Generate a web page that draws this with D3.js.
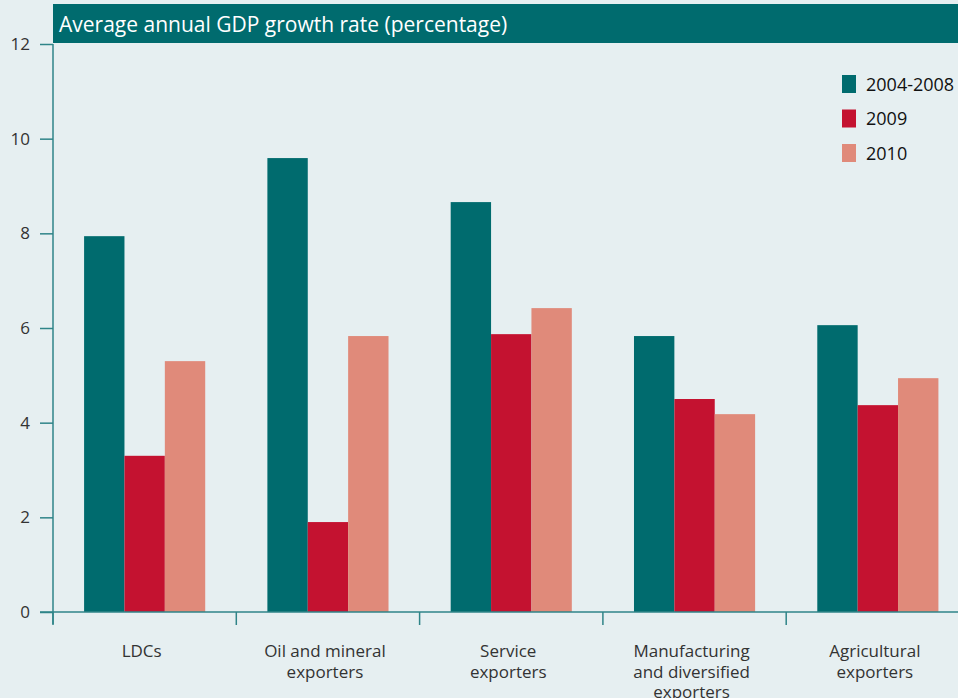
<!DOCTYPE html>
<html><head><meta charset="utf-8">
<script src="https://cdn.jsdelivr.net/npm/d3@7"></script>
<style>
html,body{margin:0;padding:0;background:#e6eff1;}
svg{display:block;}
</style></head>
<body>
<svg id="c" width="958" height="698"></svg>
<script>
const categories = [
  ["LDCs"],
  ["Oil and mineral", "exporters"],
  ["Service", "exporters"],
  ["Manufacturing", "and diversified", "exporters"],
  ["Agricultural", "exporters"]
];
const series = ["2004-2008", "2009", "2010"];
const values2004_2008 = [7.94, 9.59, 8.66, 5.83, 6.06];
const values2009 = [3.30, 1.90, 5.87, 4.50, 4.37];
const values2010 = [5.30, 5.83, 6.42, 4.18, 4.94];
const yTicks = [0, 2, 4, 6, 8, 10, 12];
const title = "Average annual GDP growth rate (percentage)";
const colors = ["#006b6e", "#c41230", "#e08a7a"];

(function () {
const seriesValues = [values2004_2008, values2009, values2010];
const svg = d3.select("#c");
const font = "'Open Sans', sans-serif";
const axisColor = "#2f8488";
const textColor = "#333";

const plotLeft = 53, plotTop = 44, plotBottom = 612;
const step = 183.3;
const catKeys = categories.map(c => c.join(" "));
const x0 = d3.scaleBand().domain(catKeys).range([plotLeft, plotLeft + step * categories.length]).padding(0);
const x1 = d3.scaleBand().domain(series).range([0, x0.bandwidth()]).paddingInner(0).paddingOuter(0.77);
const y = d3.scaleLinear().domain([0, 12]).range([plotBottom, plotTop]);

// header band
svg.append("rect").attr("x", plotLeft).attr("y", 4).attr("width", 958 - plotLeft).attr("height", 39).attr("fill", "#006b6e");
svg.append("text").attr("x", 59).attr("y", 31.5).attr("fill", "#fff")
  .attr("font-family", font).attr("font-size", 21).text(title);

// bars
const groups = svg.append("g").selectAll("g").data(catKeys).join("g")
  .attr("transform", d => `translate(${x0(d)},0)`);
groups.selectAll("rect").data((d, i) => series.map((s, j) => ({s, v: seriesValues[j][i], j})))
  .join("rect")
  .attr("x", d => x1(d.s)).attr("width", x1.bandwidth())
  .attr("y", d => y(d.v)).attr("height", d => y(0) - y(d.v))
  .attr("fill", d => colors[d.j]);

// y axis
const yAxis = svg.append("g").attr("transform", `translate(${plotLeft},0)`)
  .call(d3.axisLeft(y).tickValues(yTicks).tickSize(13).tickPadding(10));
yAxis.select(".domain").remove();
yAxis.selectAll(".tick line").attr("stroke", axisColor).attr("stroke-width", 1.5);
yAxis.selectAll(".tick text").attr("fill", textColor).attr("font-family", font).attr("font-size", 17);
svg.append("line").attr("x1", plotLeft).attr("x2", plotLeft).attr("y1", plotTop).attr("y2", plotBottom + 12)
  .attr("stroke", axisColor).attr("stroke-width", 1.5);

// x axis
svg.append("line").attr("x1", 40).attr("x2", 958).attr("y1", plotBottom).attr("y2", plotBottom)
  .attr("stroke", axisColor).attr("stroke-width", 1.5);
const bounds = catKeys.map(k => x0(k));
svg.append("g").selectAll("line").data(bounds).join("line")
  .attr("x1", d => d).attr("x2", d => d).attr("y1", plotBottom).attr("y2", plotBottom + 13)
  .attr("stroke", axisColor).attr("stroke-width", 1.5);

const lbl = svg.append("g").selectAll("text").data(categories).join("text")
  .attr("x", (d, i) => x0(catKeys[i]) + x0.bandwidth() / 2 - 3)
  .attr("y", 657).attr("text-anchor", "middle")
  .attr("fill", textColor).attr("font-family", font).attr("font-size", 17);
lbl.selectAll("tspan").data(d => d).join("tspan")
  .attr("x", function() { return this.parentNode.getAttribute("x"); })
  .attr("dy", (d, i) => i === 0 ? 0 : 20.5).text(d => d);

// legend
const leg = svg.append("g").selectAll("g").data(series).join("g")
  .attr("transform", (d, i) => `translate(842,${75 + i * 34.5})`);
leg.append("rect").attr("width", 14).attr("height", 18).attr("fill", (d, i) => colors[i]);
leg.append("text").attr("x", 24).attr("y", 15.5).attr("fill", "#111")
  .attr("font-family", font).attr("font-size", 18).text(d => d);
})();
</script>
</body></html>
